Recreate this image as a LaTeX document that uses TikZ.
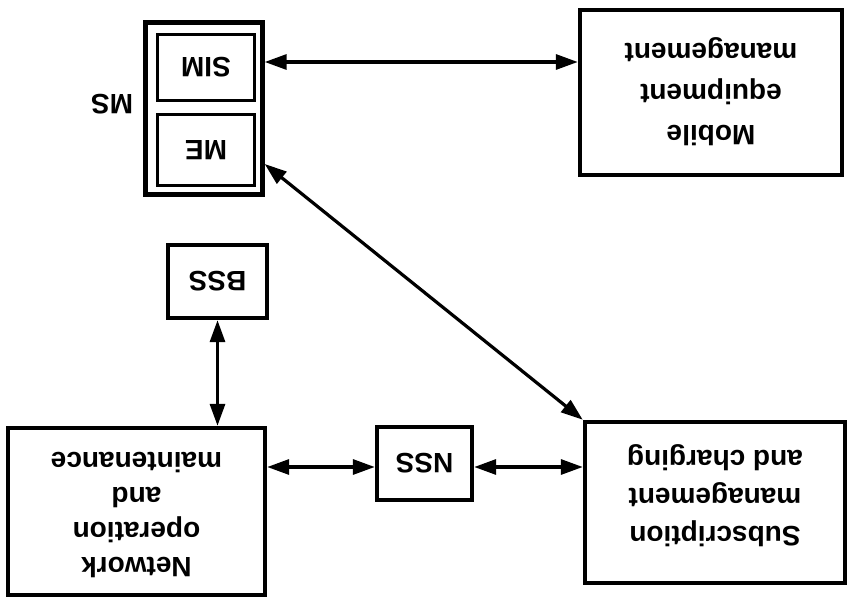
\documentclass[tikz,border=0pt]{standalone}
\usepackage{fontspec}
\setmainfont{Liberation Sans}
\usepackage{graphicx}
\usetikzlibrary{arrows.meta}
% labels are printed upside down, one centred line per row
\newcommand\updown[1]{\rotatebox[origin=c]{180}{\begin{tabular}{@{}c@{}}#1\end{tabular}}}
% same, with extra room below so the text sits a little higher
\newcommand\updownhigh[2]{\raisebox{0pt}[\height][\dimexpr\depth+#1\relax]{\updown{#2}}}
\begin{document}
\begin{tikzpicture}[x=1pt,y=-1pt,
  box/.style={draw, line width=4.4pt, inner sep=0pt,
    font=\fontsize{28}{37}\selectfont\bfseries},
  inbox/.style={box, line width=3.6pt},
  tag/.style={inner sep=0pt, font=\fontsize{28}{37}\selectfont\bfseries},
  dbl/.style={{Triangle[length=22pt,width=15pt]}-{Triangle[length=22pt,width=15pt]},
    line width=3.2pt}]
\useasboundingbox (0,0) rectangle (853,612);

% functional blocks
\node[box, minimum width=262pt, minimum height=165pt,
  font=\fontsize{28}{41}\selectfont\bfseries] (mem) at (711,92.5)
  {\updown{Mobile\\equipment\\management}};
\node[box, minimum width=260pt, minimum height=161pt,
  font=\fontsize{28}{38}\selectfont\bfseries] (sub) at (715,502.5)
  {\updownhigh{12pt}{Subscription\\management\\and charging}};
\node[box, minimum width=257pt, minimum height=167pt,
  font=\fontsize{28}{35}\selectfont\bfseries] (net) at (136.5,511.5)
  {\updown{Network\\operation\\and\\maintenance}};
\node[box, minimum width=95pt, minimum height=73pt] (nss) at (424.5,463.5)
  {\rotatebox[origin=c]{180}{NSS}};
\node[box, minimum width=99pt, minimum height=73pt] (bss) at (217.5,281.5)
  {\rotatebox[origin=c]{180}{BSS}};

% mobile station with its two parts
\node[box, minimum width=117pt, minimum height=172pt] (ms) at (204,108.5) {};
\node[inbox, minimum width=97pt, minimum height=66pt] (sim) at (206,67.5)
  {\rotatebox[origin=c]{180}{SIM}};
\node[inbox, minimum width=97pt, minimum height=71pt] (me) at (206,150)
  {\rotatebox[origin=c]{180}{ME}};
\node[tag] (mslabel) at (112,104) {\rotatebox[origin=c]{180}{MS}};

% connector rows
\coordinate (row1) at (0,62);
\coordinate (row2) at (0,164);
\coordinate (row3) at (0,467);

\draw[dbl] (ms.east |- row1) -- (mem.west |- row1);
\draw[dbl] (ms.east |- row2) -- (sub.north west);
\draw[dbl] (bss.south) -- (net.north -| bss.south);
\draw[dbl] (net.east |- row3) -- (nss.west |- row3);
\draw[dbl] (nss.east |- row3) -- (sub.west |- row3);
\end{tikzpicture}
\end{document}
